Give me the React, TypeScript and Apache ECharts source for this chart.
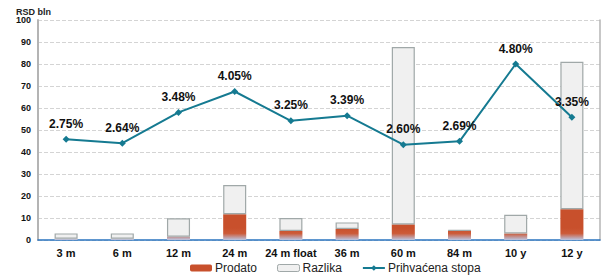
import React, { useEffect, useRef } from "react";
import * as echarts from "echarts";

const categories = ["3 m", "6 m", "12 m", "24 m", "24 m float", "36 m", "60 m", "84 m", "10 y", "12 y"];
const prodato = [0.6, 0.6, 1.5, 11.7, 4.1, 5.0, 7.1, 4.3, 3.0, 14.0];
const razlika = [2.4, 2.4, 8.4, 13.3, 5.9, 3.0, 80.6, 0.2, 8.5, 67.0];
const stopa = [2.75, 2.64, 3.48, 4.05, 3.25, 3.39, 2.60, 2.69, 4.80, 3.35];

const FONT = "Liberation Sans, Arial, sans-serif";

export default function App() {
  const ref = useRef<HTMLDivElement>(null);
  useEffect(() => {
    if (!ref.current) return;
    const chart = echarts.init(ref.current, undefined, { renderer: "svg" });
    const prodatoFill = new echarts.graphic.LinearGradient(0, 228, 0, 240, [
      { offset: 0, color: "#c8502c" },
      { offset: 0.45, color: "#cc5a38" },
      { offset: 1, color: "#b9c6e4" },
    ], true);
    chart.setOption({
      animation: false,
      textStyle: { fontFamily: FONT },
      title: {
        text: "RSD bln",
        left: 11,
        top: 2,
        textStyle: { fontSize: 9, fontWeight: "bold", color: "#222", fontFamily: FONT },
      },
      grid: { left: 38, right: 1, top: 20, bottom: 36 },
      legend: {
        left: 190,
        top: 262,
        padding: 0,
        itemGap: 20,
        itemWidth: 22,
        itemHeight: 7,
        textStyle: { fontSize: 12, color: "#222", fontFamily: FONT, padding: [0, 0, 0, -2] },
        data: [
          { name: "Prodato", itemStyle: { color: "#c8502c" } },
          { name: "Razlika", itemStyle: { color: "#f0f0f0", borderColor: "#a0a8a8", borderWidth: 1 } },
          { name: "Prihvaćena stopa" },
        ],
      },
      xAxis: {
        type: "category",
        data: categories,
        axisLine: { show: true, lineStyle: { color: "#2a74c0", width: 1.5 } },
        axisTick: { show: false },
        axisLabel: { interval: 0, fontSize: 11, fontWeight: "bold", color: "#111", margin: 7, fontFamily: FONT },
      },
      yAxis: [
        {
          type: "value",
          min: 0,
          max: 100,
          interval: 10,
          axisLine: { show: true, lineStyle: { color: "#b4b4b4", width: 2 } },
          axisTick: { show: false },
          axisLabel: { fontSize: 9, fontWeight: "bold", color: "#111", margin: 7, fontFamily: FONT },
          splitLine: { show: true, lineStyle: { color: "#d4d4d4", type: "dashed", width: 1 } },
        },
        {
          type: "value",
          min: 0,
          max: 6,
          interval: 1,
          position: "right",
          axisLine: { show: true, lineStyle: { color: "#b4b4b4", width: 1.5 } },
          axisTick: { show: false },
          axisLabel: { show: false },
          splitLine: { show: false },
        },
      ],
      series: [
        {
          name: "Prodato",
          type: "bar",
          stack: "t",
          barWidth: "41%",
          data: prodato,
          itemStyle: { color: prodatoFill },
        },
        {
          name: "Razlika",
          type: "bar",
          stack: "t",
          data: razlika,
          itemStyle: { color: "#f0f0f0", borderColor: "#a0a8a8", borderWidth: 1.2 },
        },
        {
          name: "Prihvaćena stopa",
          type: "line",
          yAxisIndex: 1,
          data: stopa,
          symbol: "diamond",
          symbolSize: 7,
          lineStyle: { color: "#157a91", width: 2 },
          itemStyle: { color: "#157a91" },
          label: {
            show: true,
            position: "top",
            distance: 6,
            fontSize: 12,
            fontWeight: "bold",
            color: "#111",
            fontFamily: FONT,
            formatter: (p: any) => p.value.toFixed(2) + "%",
          },
        },
      ],
    });
    return () => chart.dispose();
  }, []);
  return <div ref={ref} style={{ width: 601, height: 276, position: "absolute", left: 0, top: 0 }} />;
}
